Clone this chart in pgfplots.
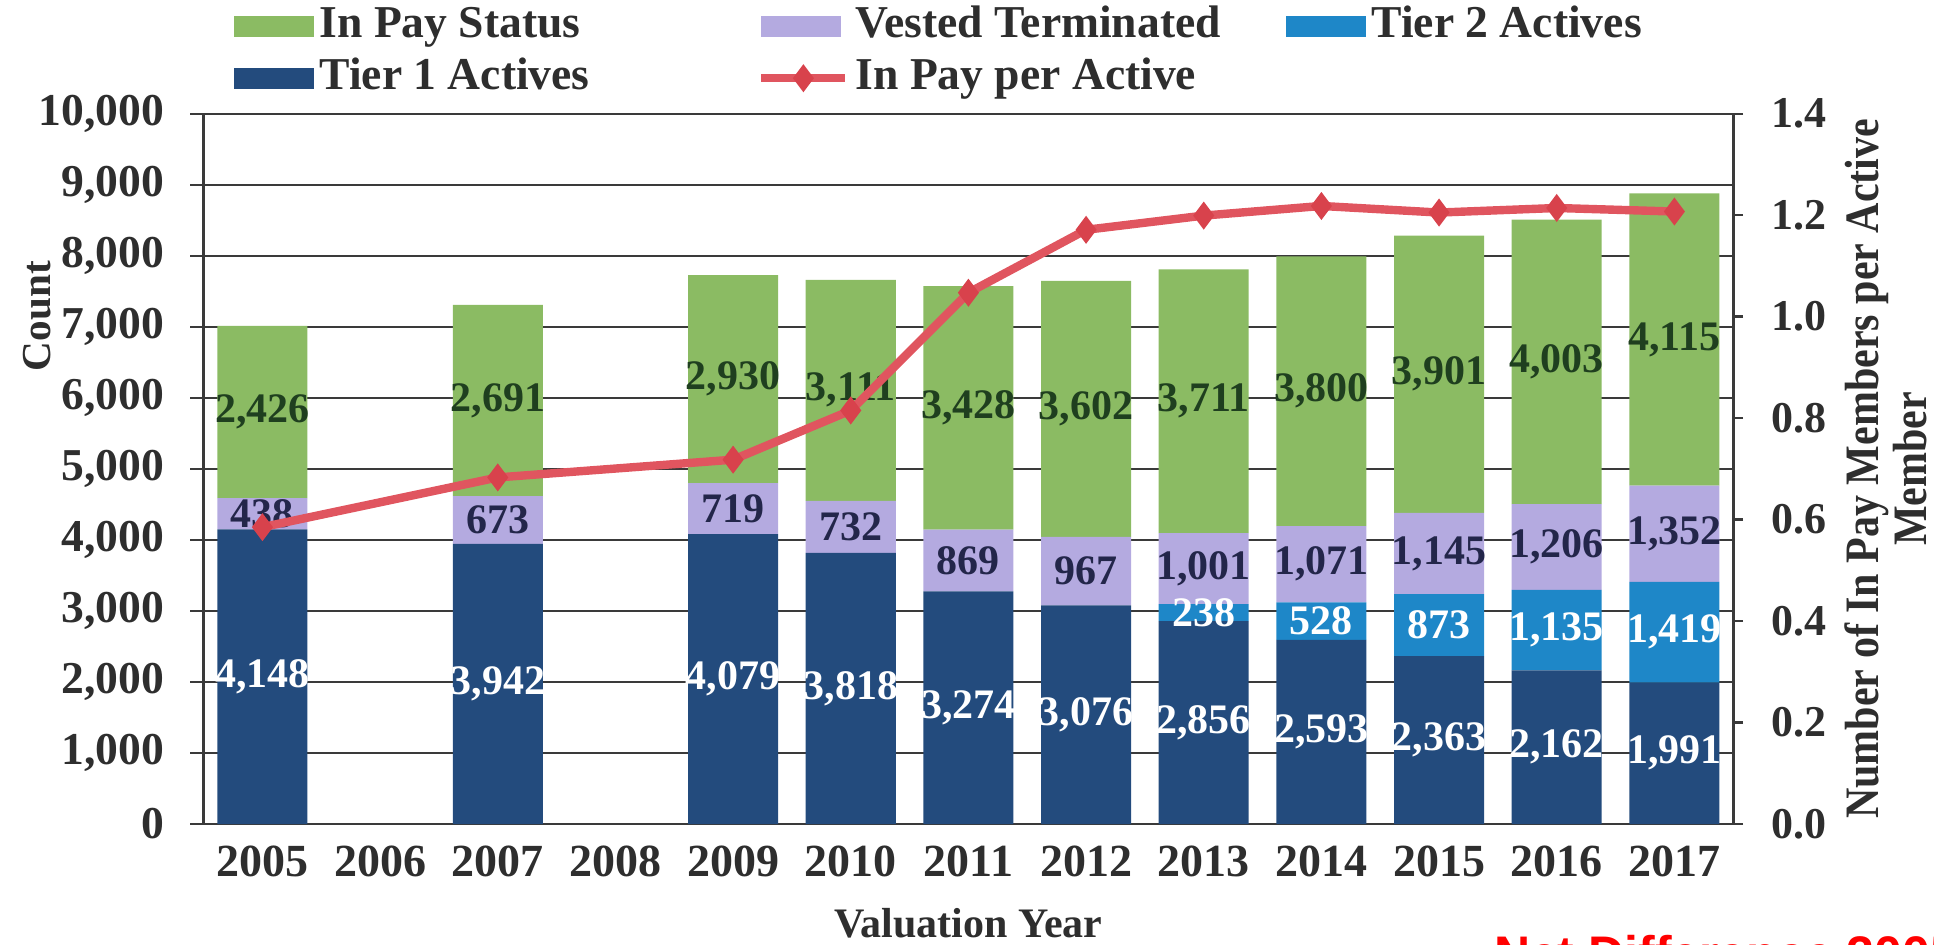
\documentclass[border=0pt]{standalone}
\usepackage{fontspec}
\setmainfont{Liberation Serif}
\newfontfamily\arialfont{Liberation Sans}
\usepackage{pgfplots}
\usepackage{pgfplotstable}
\pgfplotsset{compat=1.18}

\definecolor{inpay}{HTML}{8BBB63}
\definecolor{vested}{HTML}{B4AAE0}
\definecolor{tiertwo}{HTML}{1E87C8}
\definecolor{tierone}{HTML}{234B7D}
\definecolor{linered}{HTML}{E0555F}
\definecolor{markred}{HTML}{D8424C}
\definecolor{gtext}{HTML}{1F3F1F}
\definecolor{vtext}{HTML}{23264A}
\definecolor{gridc}{HTML}{3A3A3A}
\definecolor{labc}{HTML}{2E2E2E}

\pgfplotstableread{
x t1 t2 v p r
0 4148 0 438 2426 0.585
2 3942 0 673 2691 0.683
4 4079 0 719 2930 0.718
5 3818 0 732 3111 0.815
6 3274 0 869 3428 1.047
7 3076 0 967 3602 1.171
8 2856 238 1001 3711 1.199
9 2593 528 1071 3800 1.218
10 2363 873 1145 3901 1.205
11 2162 1135 1206 4003 1.214
12 1991 1419 1352 4115 1.207
}\datatable

\pgfplotsset{
  base/.style={width=382.4pt, height=177.6pt, scale only axis,
    xmin=-0.5, xmax=12.5, at={(0,0)}, anchor=south west},
  swatch/.style={legend image code/.code={\fill[##1] (0pt,-2.6pt) rectangle (20pt,2.6pt);}},
  mylinelegend/.style={legend image code/.code={\draw[mark repeat=2,mark phase=2,##1] plot coordinates {(0pt,0pt) (10.5pt,0pt) (21pt,0pt)};}},
}

\begin{document}
\begin{tikzpicture}
\useasboundingbox (-50.9pt,-30pt) rectangle (432.6pt,206pt);

% bars
\begin{axis}[base, ybar stacked, bar width=0.765,
  ymin=0, ymax=10000, ytick={0,1000,...,10000},
  scaled y ticks=false,
  ymajorgrids, grid style={gridc, line width=0.55pt},
  axis x line*=bottom, axis y line*=left,
  axis line style={gridc, line width=0.7pt},
  xtick={0,...,12},
  xticklabels={2005,2006,2007,2008,2009,2010,2011,2012,2013,2014,2015,2016,2017},
  x tick style={draw=none},
  y tick style={gridc, line width=0.55pt},
  tick align=outside, major tick length=3.3pt,
  /pgf/number format/1000 sep={,},
  /pgf/number format/assume math mode=true,
  yticklabel style={font=\fontsize{11.4}{13}\selectfont\bfseries, text=labc, anchor=east, inner sep=0pt, xshift=-6.3pt},
  xticklabel style={font=\fontsize{11.5}{13}\selectfont\bfseries, text=labc, anchor=center, inner sep=0pt, yshift=-6pt},
  ylabel={Count},
  ylabel style={at={(axis description cs:-0.109,0.715)}, anchor=center, font=\fontsize{10.3}{12}\selectfont\bfseries, text=labc},
  xlabel={Valuation Year},
  xlabel style={at={(axis description cs:0.5,0)}, anchor=center, yshift=-24.75pt, font=\fontsize{10.5}{12}\selectfont\bfseries, text=labc},
]
\addplot[fill=tierone, draw=none] table[x=x, y=t1]{\datatable};
\addplot[fill=tiertwo, draw=none] table[x=x, y=t2]{\datatable};
\addplot[fill=vested, draw=none] table[x=x, y=v]{\datatable};
\addplot[fill=inpay, draw=none] table[x=x, y=p]{\datatable};
\end{axis}

% data labels
\begin{axis}[base, ymin=0, ymax=10000, hide axis,
  point meta=explicit,
  /pgf/number format/1000 sep={,},
  /pgf/number format/assume math mode=true,
  nodes near coords,
  every node near coord/.append style={anchor=center, inner sep=0pt, font=\fontsize{10.5}{12}\selectfont\bfseries},
]
\addplot[draw=none, mark=none, every node near coord/.append style={text=white}]
  table[x=x, y expr=\thisrow{t1}/2, meta=t1]{\datatable};
\addplot[draw=none, mark=none, skip coords between index={0}{6}, every node near coord/.append style={text=white}]
  table[x=x, y expr=\thisrow{t1}+\thisrow{t2}/2, meta=t2]{\datatable};
\addplot[draw=none, mark=none, every node near coord/.append style={text=vtext}]
  table[x=x, y expr=\thisrow{t1}+\thisrow{t2}+\thisrow{v}/2, meta=v]{\datatable};
\addplot[draw=none, mark=none, every node near coord/.append style={text=gtext}]
  table[x=x, y expr=\thisrow{t1}+\thisrow{t2}+\thisrow{v}+\thisrow{p}/2, meta=p]{\datatable};
\end{axis}

% ratio line
\begin{axis}[base, ymin=0, ymax=1.4,
  ytick={0,0.2,0.4,0.6,0.8,1.0,1.2,1.4},
  axis y line*=right, axis x line=none,
  axis line style={gridc, line width=0.7pt},
  y tick style={gridc, line width=0.55pt},
  tick align=outside, major tick length=2.5pt,
  yticklabel style={/pgf/number format/.cd, fixed, fixed zerofill, precision=1, assume math mode=true, /tikz/.cd,
    font=\fontsize{11}{13}\selectfont\bfseries, text=labc, anchor=west, inner sep=0pt, xshift=6.75pt},
  ylabel={\scalebox{0.875}[1]{\begin{tabular}{@{}c@{}}Number of In Pay Members per Active\\Member\end{tabular}}},
  ylabel style={at={(axis description cs:1.1045,0.5)}, anchor=center, font=\fontsize{12}{12}\selectfont\bfseries, text=labc},
  legend columns=3, legend cell align=left,
  legend style={at={(axis description cs:0,1)}, anchor=north west, xshift=7.5pt, yshift=27.1pt,
    draw=none, fill=none, inner sep=0pt, outer sep=0pt, column sep=0pt, row sep=2.5pt,
    font=\fontsize{11.4}{13}\selectfont\bfseries,
    nodes={inner xsep=1.5pt, inner ysep=0pt, text height=8pt, text depth=2.5pt, text=labc}},
]
\addlegendimage{swatch, fill=inpay, draw=none}
\addlegendentry{\makebox[107.9pt][l]{In Pay Status}}
\addlegendimage{swatch, fill=vested, draw=none}
\addlegendentry{\makebox[106pt][l]{Vested Terminated}}
\addlegendimage{swatch, fill=tiertwo, draw=none}
\addlegendentry{Tier 2 Actives}
\addlegendimage{swatch, fill=tierone, draw=none}
\addlegendentry{Tier 1 Actives}
\addplot[mylinelegend, linered, line width=2.1pt, mark=diamond*, mark size=3.1pt,
  mark options={fill=markred, draw=markred, line width=0.5pt, solid}]
  table[x=x, y=r]{\datatable};
\addlegendentry{In Pay per Active}
\end{axis}

\node[anchor=base west, inner sep=0pt, text=red, font=\fontsize{12.5}{14}\selectfont\arialfont\bfseries]
  at (322.4pt,-36.75pt) {Net Difference 2005};
\end{tikzpicture}
\end{document}
